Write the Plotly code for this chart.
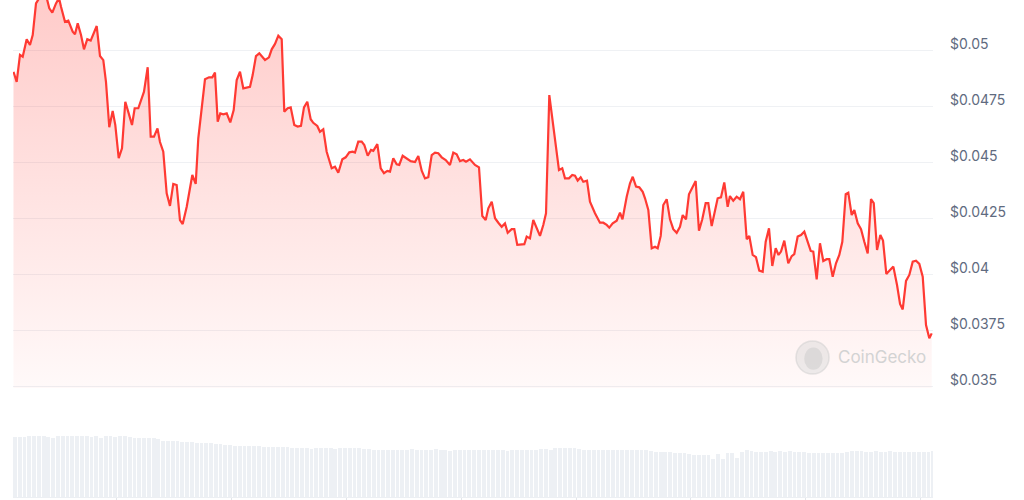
import pandas as pd
import plotly.graph_objects as go

LINE_RED = "#ff3a33"
GRID = "#eff1f4"
LABEL = "#5f6b80"

# hourly chart, about 8 days; hours counted from the first point
start = pd.Timestamp("2024-04-30 02:16")

hours = [
    0.1, 0.77, 1.46, 2.03, 2.86, 3.55, 4.12, 4.81, 5.64, 7.05,
    7.59, 8.22, 8.99, 9.62, 10.04, 10.87, 11.56, 12.48, 12.96, 13.53,
    14.22, 14.84, 15.53, 16.24, 17.5, 18.19, 18.88, 19.44, 20.13, 20.84,
    21.39, 22.1, 22.79, 23.48, 24.19, 24.88, 25.44, 26.2, 27.39, 28.16,
    28.79, 29.48, 30.21, 30.73, 31.42, 32.13, 32.82, 33.51, 34.22, 34.91,
    35.48, 36.32, 37.49, 38.2, 38.74, 40.14, 40.98, 41.67, 42.23, 42.8,
    43.34, 43.97, 44.68, 45.43, 46.14, 46.77, 47.46, 48.15, 49.55, 50.11,
    50.8, 51.49, 52.69, 53.52, 54.09, 54.78, 55.47, 56.18, 56.72, 57.43,
    58.06, 58.81, 59.52, 60.21, 60.84, 61.53, 62.24, 62.78, 63.62, 64.18,
    64.87, 65.58, 66.63, 67.32, 68.01, 68.85, 69.56, 70.31, 71.02, 71.5,
    72.19, 72.9, 73.45, 74.16, 74.85, 75.33, 76.17, 76.88, 77.56, 78.26,
    78.82, 79.51, 80.22, 80.76, 81.47, 82.31, 83.15, 84.05, 84.74, 85.45,
    86.14, 86.83, 87.54, 88.23, 88.92, 89.63, 90.47, 91.36, 92.05, 92.76,
    93.45, 94.14, 94.71, 95.54, 96.59, 97.43, 98.12, 98.83, 99.38, 100.09,
    100.78, 101.47, 102.17, 102.86, 103.43, 104.26, 104.81, 105.43, 106.21, 106.9,
    107.4, 108.09, 108.78, 109.49, 110.18, 110.87, 111.44, 112.13, 112.75, 113.46,
    114.15, 114.84, 115.41, 116.24, 116.93, 117.5, 118.06, 118.69, 119.23, 120.01,
    120.63, 121.68, 122.72, 123.41, 124.13, 124.67, 125.38, 126.22, 126.91, 127.43,
    128.31, 129.0, 129.57, 130.26, 130.95, 131.66, 132.14, 132.83, 133.54, 134.23,
    134.79, 135.42, 135.96, 136.67, 137.36, 138.05, 138.76, 139.45, 140.02, 140.71,
    141.33, 142.02, 142.73, 143.42, 144.11, 144.82, 145.37, 146.08, 146.77, 147.33,
    148.02, 148.71, 149.42, 149.9, 150.59, 151.3, 151.99, 152.68, 153.4, 153.94,
    154.65, 155.34, 156.03, 156.74, 157.37, 158.06, 158.75, 159.46, 160.05, 160.57,
    161.26, 162.09, 162.81, 163.35, 164.06, 164.75, 165.44, 166.15, 166.78, 167.32,
    168.03, 168.72, 169.41, 170.12, 170.67, 171.38, 172.07, 172.76, 173.39, 174.1,
    174.64, 175.35, 175.9, 176.61, 177.3, 177.99, 178.7, 179.39, 179.96, 180.65,
    181.34, 181.9, 182.59, 183.37, 184.06, 184.83, 185.46, 186.02, 186.71, 187.4,
    188.11, 188.8, 189.49, 190.2, 190.89, 191.58, 192.08,
]

prices = [
    0.04903, 0.04858, 0.04978, 0.04970, 0.05048, 0.05022, 0.05067, 0.05208, 0.05237, 0.05232,
    0.05186, 0.05167, 0.05208, 0.05232, 0.05193, 0.05126, 0.05131, 0.05082, 0.05070, 0.05119,
    0.05067, 0.05003, 0.05048, 0.05042, 0.05107, 0.04973, 0.04955, 0.04858, 0.04655, 0.04728,
    0.04665, 0.04517, 0.04561, 0.04769, 0.04717, 0.04665, 0.04740, 0.04740, 0.04814, 0.04923,
    0.04613, 0.04613, 0.04650, 0.04589, 0.04546, 0.04360, 0.04304, 0.04402, 0.04397, 0.04241,
    0.04223, 0.04300, 0.04442, 0.04402, 0.04606, 0.04869, 0.04878, 0.04878, 0.04899, 0.04680,
    0.04717, 0.04713, 0.04717, 0.04677, 0.04732, 0.04866, 0.04903, 0.04829, 0.04836, 0.04888,
    0.04973, 0.04985, 0.04955, 0.04967, 0.05003, 0.05027, 0.05064, 0.05048, 0.04725, 0.04740,
    0.04744, 0.04665, 0.04658, 0.04661, 0.04744, 0.04769, 0.04691, 0.04675, 0.04661, 0.04635,
    0.04646, 0.04546, 0.04472, 0.04479, 0.04452, 0.04512, 0.04521, 0.04543, 0.04546, 0.04542,
    0.04591, 0.04591, 0.04576, 0.04528, 0.04554, 0.04550, 0.04580, 0.04472, 0.04450, 0.04460,
    0.04457, 0.04517, 0.04490, 0.04487, 0.04528, 0.04517, 0.04504, 0.04500, 0.04527, 0.04461,
    0.04427, 0.04432, 0.04531, 0.04542, 0.04539, 0.04521, 0.04509, 0.04487, 0.04542, 0.04534,
    0.04504, 0.04509, 0.04501, 0.04512, 0.04487, 0.04476, 0.04259, 0.04241, 0.04293, 0.04323,
    0.04249, 0.04229, 0.04211, 0.04226, 0.04184, 0.04200, 0.04200, 0.04130, 0.04133, 0.04133,
    0.04167, 0.04159, 0.04241, 0.04204, 0.04170, 0.04219, 0.04271, 0.04799, 0.04695, 0.04561,
    0.04464, 0.04472, 0.04427, 0.04427, 0.04442, 0.04439, 0.04417, 0.04432, 0.04412, 0.04417,
    0.04323, 0.04271, 0.04229, 0.04229, 0.04219, 0.04207, 0.04226, 0.04238, 0.04274, 0.04244,
    0.04345, 0.04405, 0.04434, 0.04390, 0.04387, 0.04367, 0.04338, 0.04286, 0.04115, 0.04122,
    0.04115, 0.04170, 0.04308, 0.04334, 0.04244, 0.04200, 0.04184, 0.04211, 0.04263, 0.04244,
    0.04356, 0.04385, 0.04415, 0.04193, 0.04244, 0.04316, 0.04316, 0.04214, 0.04289, 0.04338,
    0.04342, 0.04409, 0.04300, 0.04348, 0.04327, 0.04345, 0.04334, 0.04367, 0.04155, 0.04170,
    0.04085, 0.04075, 0.04015, 0.04010, 0.04144, 0.04204, 0.04036, 0.04115, 0.04085, 0.04100,
    0.04149, 0.04048, 0.04080, 0.04089, 0.04167, 0.04174, 0.04189, 0.04144, 0.04103, 0.04100,
    0.03976, 0.04137, 0.04058, 0.04066, 0.04066, 0.03988, 0.04048, 0.04085, 0.04144, 0.04356,
    0.04363, 0.04263, 0.04286, 0.04226, 0.04200, 0.04144, 0.04092, 0.04334, 0.04316, 0.04107,
    0.04174, 0.04149, 0.04000, 0.04018, 0.04033, 0.03951, 0.03866, 0.03842, 0.03969, 0.03996,
    0.04055, 0.04059, 0.04045, 0.03988, 0.03772, 0.03713, 0.03735,
]

# hourly volume (arbitrary units, one bar per hour)
volumes = [
    60.3, 60.3, 60.3, 61.3, 61.3, 61.3, 61.3, 60.5, 59.5, 61.3, 61.3, 60.8,
    61.3, 61.3, 61.3, 61.3, 60.5, 61.0, 59.5, 61.0, 61.3, 60.0, 61.0, 61.3,
    60.5, 59.0, 58.7, 58.7, 58.7, 58.7, 58.0, 56.3, 56.3, 56.5, 56.3, 55.5,
    55.0, 55.0, 54.5, 54.0, 53.7, 53.7, 53.0, 52.5, 52.0, 51.5, 51.3, 51.3,
    51.3, 51.3, 51.3, 50.5, 50.3, 50.3, 50.3, 50.3, 49.5, 50.0, 48.7, 48.7,
    48.7, 48.7, 48.0, 48.7, 48.7, 48.7, 48.7, 48.2, 48.7, 48.7, 48.7, 48.7,
    48.7, 48.0, 47.5, 47.0, 47.0, 47.0, 47.0, 46.5, 47.0, 47.0, 47.0, 47.5,
    47.0, 46.5, 47.0, 47.0, 47.5, 47.0, 47.0, 46.0, 47.0, 47.0, 47.0, 47.0,
    47.0, 47.0, 47.0, 47.0, 46.5, 47.0, 47.0, 46.3, 47.0, 47.0, 47.0, 47.0,
    47.0, 47.0, 47.5, 48.0, 47.0, 48.7, 49.0, 48.7, 48.7, 48.5, 47.5, 47.0,
    47.0, 47.0, 47.0, 47.0, 47.0, 47.0, 47.0, 47.0, 47.0, 47.0, 47.0, 47.0,
    46.5, 46.0, 45.3, 45.3, 45.3, 44.5, 43.7, 43.7, 43.7, 42.8, 42.0, 42.0,
    42.0, 42.0, 38.0, 42.5, 38.0, 43.5, 43.5, 39.0, 44.5, 46.5, 45.5, 45.3,
    45.3, 45.3, 45.5, 45.3, 45.5, 45.3, 45.5, 45.3, 45.3, 44.5, 43.7, 43.7,
    43.7, 43.7, 43.7, 43.7, 43.7, 44.2, 45.3, 45.8, 46.3, 46.3, 45.3, 45.3,
    46.3, 45.3, 45.3, 46.3, 45.3, 45.3, 45.3, 45.3, 45.3, 45.3, 45.3, 45.3,
    46.0,
]

price_ticks = [0.035, 0.0375, 0.04, 0.0425, 0.045, 0.0475, 0.05]
price_labels = ["$0.035", "$0.0375", "$0.04", "$0.0425", "$0.045", "$0.0475", "$0.05"]

price_x = [start + pd.Timedelta(hours=h) for h in hours]
volume_x = [start + pd.Timedelta(hours=i) for i in range(len(volumes))]
end = start + pd.Timedelta(hours=192.35)

fig = go.Figure()

fig.add_trace(go.Bar(
    x=volume_x, y=volumes, xaxis="x", yaxis="y2",
    marker={"color": "#edf0f4", "line": {"width": 0}},
    width=0.8 * 3600 * 1000, offset=0,
    hoverinfo="skip", showlegend=False,
))

fig.add_trace(go.Scatter(
    x=price_x, y=prices, xaxis="x", yaxis="y",
    mode="lines",
    line={"color": LINE_RED, "width": 2.2},
    fill="tozeroy",
    fillgradient={
        "type": "vertical",
        "start": 0.035, "stop": 0.0522,
        "colorscale": [[0, "rgba(255,58,51,0.03)"], [1, "rgba(255,58,51,0.26)"]],
    },
    showlegend=False,
))

# CoinGecko watermark
fig.add_shape(type="circle", xref="paper", yref="paper",
              x0=0.8511, x1=0.8870, y0=0.2475, y1=0.3139,
              fillcolor="rgba(215,215,215,0.45)", line={"color": "rgba(205,205,205,0.5)", "width": 1.5},
              layer="above")
fig.add_shape(type="circle", xref="paper", yref="paper",
              x0=0.8600, x1=0.8800, y0=0.2560, y1=0.3010,
              fillcolor="rgba(200,200,200,0.45)", line={"width": 0}, layer="above")
fig.add_annotation(text="CoinGecko", xref="paper", yref="paper", x=0.8946, y=0.2807,
                   xanchor="left", yanchor="middle", showarrow=False,
                   font={"size": 17, "color": "#d3d3d3", "family": "Inter"})

fig.update_layout(
    width=1024, height=500,
    margin={"l": 13, "r": 91, "t": 0, "b": 3},
    paper_bgcolor="white", plot_bgcolor="white",
    font={"family": "Inter", "color": LABEL},
    bargap=0,
    xaxis={
        "type": "date", "range": [start, end], "anchor": "y2",
        "showgrid": False, "zeroline": False, "showticklabels": False,
        "showline": True, "linecolor": "#eceff3", "linewidth": 1,
        "ticks": "outside", "ticklen": 3, "tickcolor": "#e3e6ea",
        "tick0": "2024-05-01", "dtick": 86400000,
    },
    yaxis={
        "domain": [0.2193, 1.0], "range": [0.034911, 0.052232],
        "side": "right", "anchor": "x",
        "tickvals": price_ticks, "ticktext": price_labels,
        "showgrid": True, "gridcolor": GRID, "gridwidth": 1,
        "zeroline": False, "showline": False, "ticks": "",
        "ticklabelstandoff": 16, "ticklabelshift": -6,
        "tickfont": {"size": 14, "color": LABEL, "family": "Inter"},
    },
    yaxis2={
        "domain": [0.0, 0.1408], "range": [0, 70],
        "visible": False, "showgrid": False, "zeroline": False,
    },
)

# drop the default page margin so the chart sits at the window's corner
fig.write_html(
    "out.html",
    config={"displayModeBar": False},
    post_script="document.body.style.margin='0';",
)
